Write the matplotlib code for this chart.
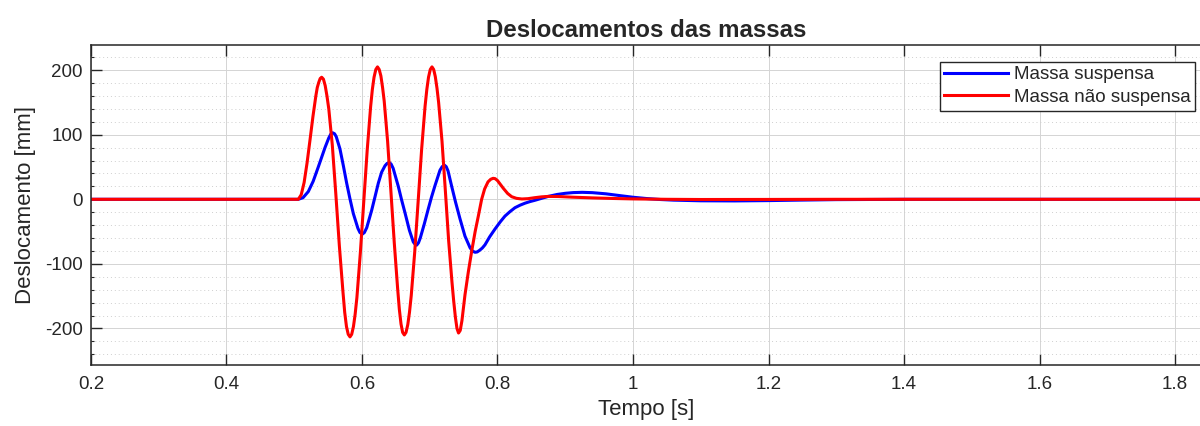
import matplotlib
matplotlib.use("Agg")
import matplotlib.pyplot as plt
from matplotlib.ticker import MultipleLocator

plt.rcParams['font.family'] = ['Liberation Sans', 'DejaVu Sans']
plt.rcParams['axes.unicode_minus'] = False

# Tempo [s] e deslocamento [mm] da massa suspensa
t_susp = [0.2, 0.506, 0.513, 0.5208, 0.528, 0.5355, 0.5454, 0.551, 0.554, 0.5567, 0.5595, 0.562,
          0.5675, 0.5725, 0.5774, 0.582, 0.5872, 0.594, 0.597, 0.6004, 0.6035, 0.607, 0.6143, 0.619,
          0.6241, 0.629, 0.634, 0.637, 0.6403, 0.643, 0.646, 0.6536, 0.6585, 0.6635, 0.67, 0.6757,
          0.6783, 0.6807, 0.6833, 0.686, 0.692, 0.6978, 0.7025, 0.7077, 0.7151, 0.7183, 0.7215,
          0.7243, 0.727, 0.7324, 0.738, 0.7446, 0.752, 0.7595, 0.763, 0.7668, 0.770, 0.7735,
          0.7775, 0.7815, 0.7885, 0.7963, 0.804, 0.811, 0.8185, 0.8258, 0.8335, 0.8406, 0.848, 0.8553,
          0.865, 0.875, 0.888, 0.9, 0.912, 0.925, 0.94, 0.96, 0.98, 1.0, 1.02, 1.04, 1.06,
          1.1, 1.15, 1.2, 1.25, 1.3, 1.4, 1.84]
x_susp = [0, 0, 2.5, 12, 28, 50, 80, 95, 101, 103, 101.5, 97,
          78, 52, 25, 2, -22, -45, -51.5, -54, -51.5, -44, -17, 3,
          25, 42, 52, 55.5, 57, 54.5, 48, 20, -1, -21, -48, -66,
          -69.5, -71, -67.5, -60, -38, -15, 3, 21, 45, 50.5, 53,
          50.5, 44, 20, -4, -30, -57, -75, -80, -82, -81.5, -79,
          -75.5, -70.5, -58, -46, -35, -26, -19, -13, -9, -6, -3.5, -1.5,
          1.5, 4.5, 7.5, 9.3, 10.4, 10.8, 10.3, 8.5, 5.8, 3.2, 1.2, -0.3, -1.3,
          -2.3, -2.5, -2, -1.2, -0.5, 0, 0]

# Tempo [s] e deslocamento [mm] da massa nao suspensa
t_nsusp = [0.2, 0.506, 0.5103, 0.5146, 0.5189, 0.5233, 0.5276, 0.5319, 0.534, 0.5362, 0.5383, 0.5405,
           0.5431, 0.5457, 0.5483, 0.5510, 0.5562, 0.5614, 0.5666, 0.5719, 0.5745, 0.5771, 0.5797, 0.5823,
           0.5848, 0.5874, 0.5899, 0.5925, 0.5975, 0.6026, 0.6077, 0.6128, 0.6153, 0.6178, 0.6204, 0.6229,
           0.6254, 0.6279, 0.6304, 0.6328, 0.6378, 0.6427, 0.6477, 0.6526, 0.6551, 0.6576, 0.66, 0.6625,
           0.665, 0.6676, 0.6701, 0.6727, 0.6778, 0.6829, 0.688, 0.6931, 0.6957, 0.6982, 0.7008, 0.7033,
           0.7058, 0.7082, 0.7107, 0.7131, 0.7181, 0.723, 0.7279, 0.7328, 0.7353, 0.7378, 0.7402, 0.7425,
           0.745, 0.7475, 0.752, 0.757, 0.7618, 0.767, 0.7717, 0.7766, 0.781, 0.786, 0.79, 0.7935,
           0.7965, 0.80, 0.8086, 0.815, 0.821, 0.828, 0.836, 0.845, 0.855, 0.865, 0.875,
           0.89, 0.91, 0.94, 0.97, 1.0, 1.05, 1.1, 1.2, 1.3, 1.84]
x_nsusp = [0, 0, 7, 26, 56, 92, 128, 160, 173, 181, 187, 189,
           186, 176, 160, 140, 84, 8, -72, -143, -175, -197, -209, -213,
           -209, -197, -178, -152, -84, -4, 76, 144, 170, 189, 201, 205,
           201, 191, 173, 152, 90, 12, -68, -138, -170, -193, -206, -210,
           -206, -194, -175, -149, -82, -3, 77, 144, 170, 189, 201, 205,
           201, 190, 172, 150, 90, 14, -64, -128, -157, -182, -200, -207,
           -203, -188, -148, -112, -81, -50, -26, 0, 16, 27, 31, 32.5,
           32, 29, 17, 9, 4, 1.5, 0.5, 1, 2.5, 3.8, 4.5,
           4.3, 3.3, 2.2, 1.3, 0.6, 0, -0.3, -0.2, 0, 0]

x_ticks = [0.2, 0.4, 0.6, 0.8, 1, 1.2, 1.4, 1.6, 1.8]
x_ticklabels = ['0.2', '0.4', '0.6', '0.8', '1', '1.2', '1.4', '1.6', '1.8']
y_ticks = [-200, -100, 0, 100, 200]

text_color = '#262626'

fig = plt.figure(figsize=(12, 4.26), dpi=100)
ax = fig.add_axes([0.0758, 0.1432, 0.926, 0.7512])

ax.plot(t_susp, x_susp, color='#0000FF', lw=2.2, label='Massa suspensa')
ax.plot(t_nsusp, x_nsusp, color='#FF0000', lw=2.2, label='Massa não suspensa')

ax.set_xlim(0.2, 1.84)
ax.set_ylim(-256.5, 238.9)
ax.set_xticks(x_ticks)
ax.set_xticklabels(x_ticklabels)
ax.set_yticks(y_ticks)
ax.yaxis.set_minor_locator(MultipleLocator(20))

ax.grid(True, which='major', color='#d4d4d4', lw=0.7, ls='-')
ax.grid(True, which='minor', axis='y', color='#cfcfcf', lw=0.7, ls=(0, (1, 3)))
ax.set_axisbelow(True)

ax.tick_params(which='major', direction='in', length=8, width=1, colors=text_color,
               labelsize=13.5, top=True, right=False, pad=6)
ax.tick_params(which='minor', direction='in', length=2, width=0.8, colors=text_color,
               left=True, right=False)
ax.tick_params(axis='x', pad=8)
for s in ax.spines.values():
    s.set_color(text_color)
    s.set_linewidth(1.1)

ax.set_xlabel('Tempo [s]', fontsize=16, color=text_color, labelpad=4)
ax.set_ylabel('Deslocamento [mm]', fontsize=16, color=text_color, labelpad=6)
ax.set_title('Deslocamentos das massas', fontsize=17.3, fontweight='bold',
             color=text_color, pad=6)

leg = ax.legend(loc='upper right', bbox_to_anchor=(0.9937, 0.948), borderaxespad=0,
                fontsize=13.5, frameon=True, fancybox=False, framealpha=1,
                edgecolor=text_color, handlelength=3.4, handletextpad=0.3,
                labelspacing=0.28, borderpad=0.25)
leg.get_frame().set_linewidth(1.0)
for txt in leg.get_texts():
    txt.set_color(text_color)

fig.savefig('out.png', dpi=100)
